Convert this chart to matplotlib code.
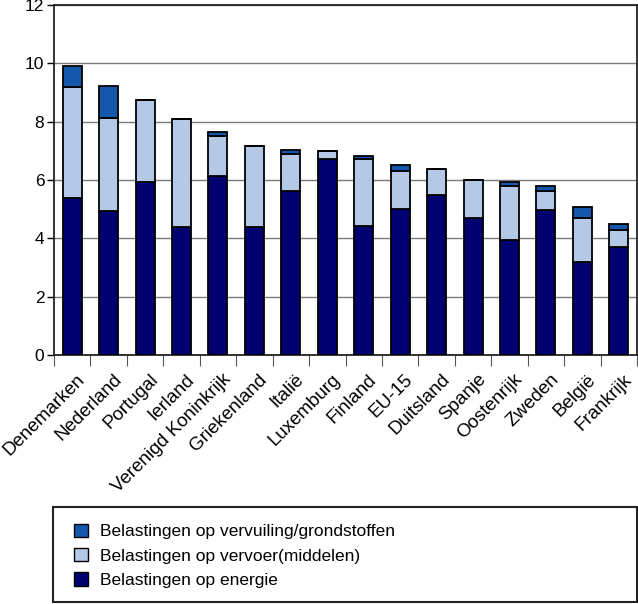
import numpy as np
import matplotlib
matplotlib.use('Agg')
import matplotlib.pyplot as plt
from matplotlib.patches import Patch, Rectangle

plt.rcParams['font.family'] = ['Liberation Sans', 'DejaVu Sans']

# data
landen = ['Denemarken', 'Nederland', 'Portugal', 'Ierland', 'Verenigd Koninkrijk',
          'Griekenland', 'Italië', 'Luxemburg', 'Finland', 'EU-15', 'Duitsland',
          'Spanje', 'Oostenrijk', 'Zweden', 'België', 'Frankrijk']
energie = [5.38, 4.94, 5.93, 4.39, 6.14, 4.39, 5.62, 6.71, 4.42, 5.02, 5.50,
           4.69, 3.94, 4.98, 3.18, 3.69]
vervoer = [3.81, 3.18, 2.81, 3.70, 1.37, 2.77, 1.27, 0.30, 2.30, 1.29, 0.88,
           1.30, 1.86, 0.63, 1.51, 0.61]
vervuiling = [0.72, 1.10, 0.0, 0.0, 0.13, 0.0, 0.14, 0.0, 0.11, 0.21, 0.0,
              0.0, 0.12, 0.18, 0.38, 0.19]
reeks_namen = ['Belastingen op vervuiling/grondstoffen',
               'Belastingen op vervoer(middelen)',
               'Belastingen op energie']
yticks = [0, 2, 4, 6, 8, 10, 12]

c_energie = '#000070'
c_vervoer = '#b3c9e5'
c_vervuiling = '#1458ae'
fs = 12.5

fig = plt.figure(figsize=(6.38, 6.04), dpi=100)
ax = fig.add_axes([54/638, 1 - 355/604, 583/638, 350/604])

x = np.arange(len(landen))
e = np.array(energie)
v = np.array(vervoer)
p = np.array(vervuiling)
w = 0.52
kw = dict(width=w, edgecolor='black', linewidth=1.3, zorder=3)
ax.bar(x, e, color=c_energie, **kw)
ax.bar(x, v, bottom=e, color=c_vervoer, **kw)
ax.bar(x, p, bottom=e + v, color=c_vervuiling, **kw)

ax.set_xlim(-0.5, len(landen) - 0.5)
ax.set_ylim(0, 12)
ax.set_yticks(yticks)
ax.yaxis.grid(True, color='#7a7a7a', linewidth=1.0, zorder=0)
ax.tick_params(axis='y', length=5, width=1, labelsize=fs, pad=2)

# x ticks between the categories, labels at the centres
ax.set_xticks(np.arange(len(landen) + 1) - 0.5, minor=False)
ax.set_xticklabels([])
ax.tick_params(axis='x', length=8, width=0.8, color='#555555')
for i, naam in enumerate(landen):
    ax.text(i + 0.12, -0.55, naam, rotation=45, ha='right', va='top',
            rotation_mode='anchor', fontsize=13.5)

for s in ax.spines.values():
    s.set_linewidth(1.3)
    s.set_color('#222222')

# legend with its own frame
fig.add_artist(Rectangle((53/638, 1 - 602/604), 584/638, 95/604,
                         transform=fig.transFigure, fill=False,
                         edgecolor='#222222', linewidth=1.5))
handles = [Patch(facecolor=c, edgecolor='black', linewidth=1.0)
           for c in [c_vervuiling, c_vervoer, c_energie]]
fig.legend(handles, reeks_namen, loc='upper left',
           bbox_to_anchor=(58/638, 1 - 508/604), frameon=False,
           fontsize=fs, handlelength=0.8, handleheight=0.8,
           handletextpad=0.7, labelspacing=0.5)

fig.savefig('out.png', dpi=100)
